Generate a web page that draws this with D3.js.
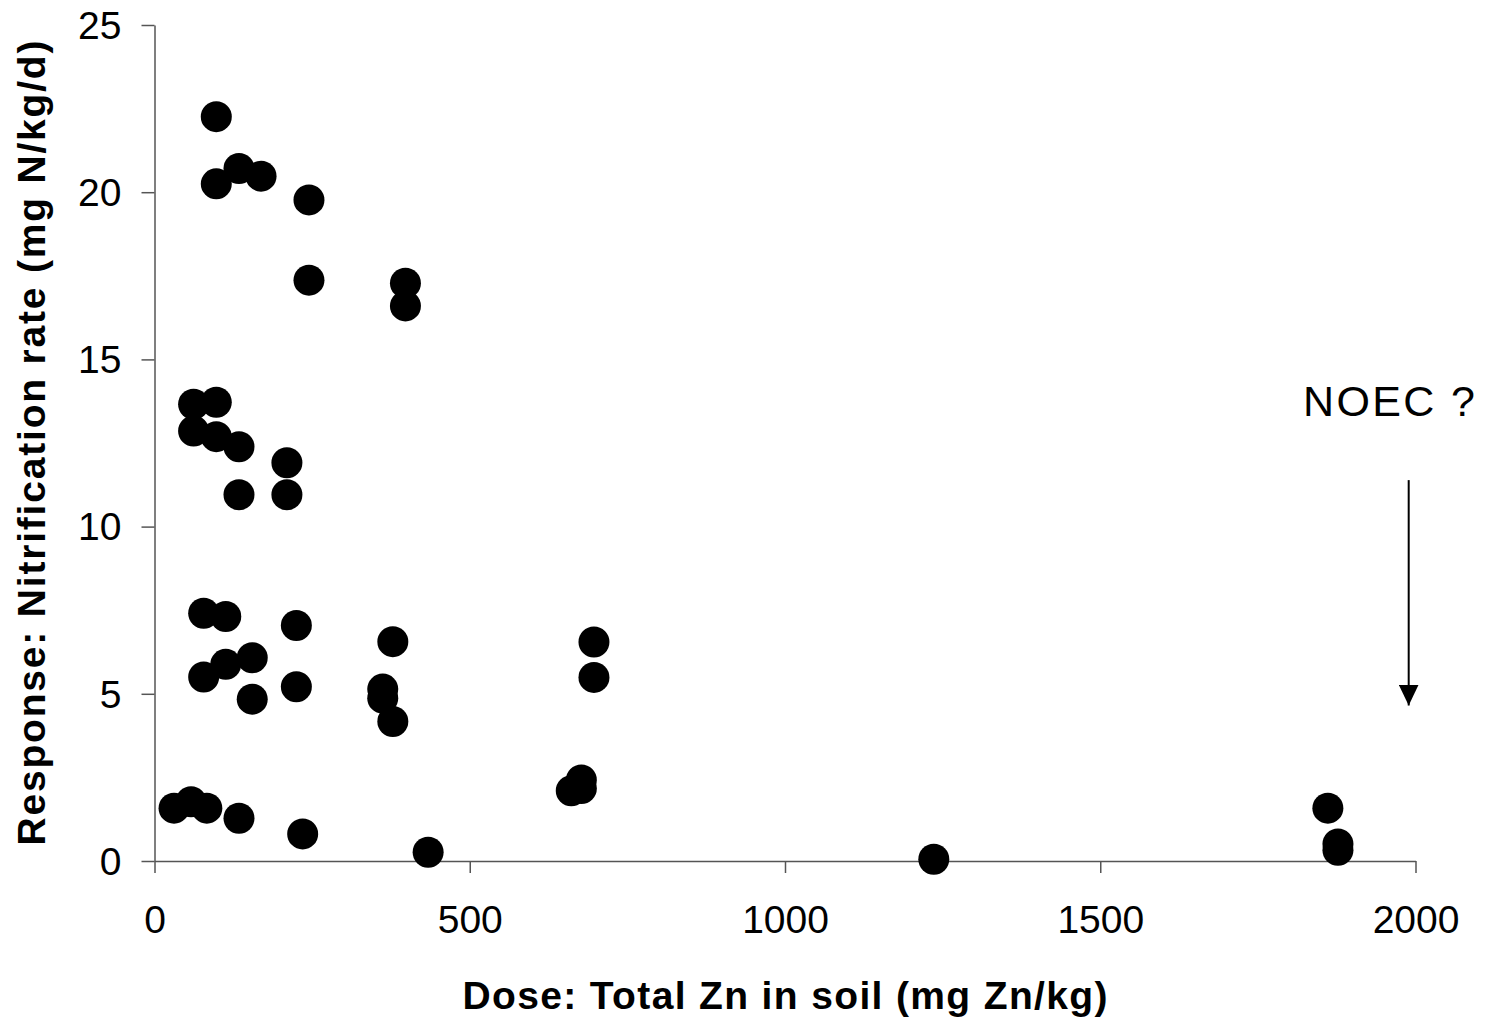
<!DOCTYPE html>
<html><head><meta charset="utf-8">
<script src="https://cdn.jsdelivr.net/npm/d3@7"></script>
<style>html,body{margin:0;padding:0;background:#fff;}svg{display:block;}</style>
</head><body>
<svg id="chart" width="1487" height="1019"></svg>
<script>
const doseZn = [98, 134, 98, 169, 245, 245, 398, 398, 62, 98, 62, 98, 134, 210, 134, 210, 78, 113, 225, 378, 155, 113, 78, 225, 155, 362, 362, 378, 31, 58, 83, 134, 235, 434, 697, 697, 677, 661, 677, 1236, 1861, 1877, 1877];
const nitrificationRate = [22.26, 20.71, 20.25, 20.48, 19.77, 17.37, 17.28, 16.6, 13.66, 13.72, 12.86, 12.69, 12.39, 11.91, 10.95, 10.95, 7.41, 7.31, 7.04, 6.56, 6.08, 5.88, 5.5, 5.21, 4.84, 5.14, 4.87, 4.17, 1.58, 1.77, 1.58, 1.28, 0.81, 0.26, 6.55, 5.49, 2.42, 2.10, 2.17, 0.05, 1.58, 0.51, 0.32];
const xTicks = [0, 500, 1000, 1500, 2000];
const yTicks = [0, 5, 10, 15, 20, 25];
const xTitle = "Dose: Total Zn in soil (mg Zn/kg)";
const yTitle = "Response: Nitrification rate (mg N/kg/d)";
const noecLabel = "NOEC ?";
const noecDose = 1990;
const noecArrow = [11.39, 4.65];

const svg = d3.select("#chart");
const x = d3.scaleLinear().domain([0, 2000]).range([154.5, 1415.5]);
const y = d3.scaleLinear().domain([0, 25]).range([861, 25]);
const font = "Arial, 'Liberation Sans', sans-serif";
const axisColor = "#555";

const xAxis = svg.append("g").attr("transform", `translate(0,${y(0)})`)
  .call(d3.axisBottom(x).tickValues(xTicks).tickSize(12).tickSizeOuter(0).tickPadding(0).tickFormat(d3.format("d")));
xAxis.select(".domain").attr("stroke", axisColor).attr("stroke-width", 1.5);
xAxis.selectAll(".tick line").attr("stroke", axisColor).attr("stroke-width", 1.5);
xAxis.selectAll(".tick text").attr("font-family", font).attr("font-size", 39).attr("fill", "#000")
  .attr("dy", null).attr("y", 72);

const yAxis = svg.append("g").attr("transform", `translate(${x(0)},0)`)
  .call(d3.axisLeft(y).tickValues(yTicks).tickSize(13).tickSizeOuter(0).tickPadding(0).tickFormat(d3.format("d")));
yAxis.select(".domain").attr("stroke", axisColor).attr("stroke-width", 1.5);
yAxis.selectAll(".tick line").attr("stroke", axisColor).attr("stroke-width", 1.5);
yAxis.selectAll(".tick text").attr("font-family", font).attr("font-size", 39).attr("fill", "#000")
  .attr("x", -33).attr("dy", "0.34em");

svg.append("g").selectAll("circle")
  .data(doseZn.map((d, i) => [d, nitrificationRate[i]]))
  .join("circle")
  .attr("cx", d => x(d[0])).attr("cy", d => y(d[1])).attr("r", 15.5).attr("fill", "#000");

svg.append("text").attr("x", (x(0) + x(2000)) / 2).attr("y", 1009)
  .attr("text-anchor", "middle").attr("font-family", font).attr("font-weight", "bold")
  .attr("font-size", 39).attr("textLength", 645).attr("lengthAdjust", "spacing").text(xTitle);

svg.append("text").attr("transform", `translate(45,${(y(0) + y(25)) / 2}) rotate(-90)`)
  .attr("text-anchor", "middle").attr("font-family", font).attr("font-weight", "bold")
  .attr("font-size", 39).attr("textLength", 805).attr("lengthAdjust", "spacing").text(yTitle);

svg.append("text").attr("x", 1389).attr("y", 416).attr("text-anchor", "middle")
  .attr("font-family", font).attr("font-size", 43).attr("textLength", 172).attr("lengthAdjust", "spacing")
  .text(noecLabel);

svg.append("defs").append("marker").attr("id", "arrowhead")
  .attr("viewBox", "0 0 20 21").attr("refX", 10).attr("refY", 21)
  .attr("markerWidth", 20).attr("markerHeight", 21).attr("markerUnits", "userSpaceOnUse")
  .attr("orient", "0")
  .append("path").attr("d", "M0,0 L20,0 L10,21 Z").attr("fill", "#000");

svg.append("line").attr("x1", x(noecDose) - 0.5).attr("x2", x(noecDose) - 0.5)
  .attr("y1", y(noecArrow[0])).attr("y2", y(noecArrow[1]))
  .attr("stroke", "#000").attr("stroke-width", 2).attr("marker-end", "url(#arrowhead)");
</script>
</body></html>
